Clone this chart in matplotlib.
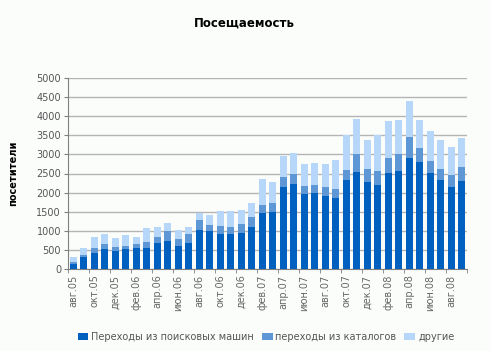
import numpy as np
import matplotlib.pyplot as plt

# months Aug 2005 .. Sep 2008
month_names = ['авг', 'сен', 'окт', 'ноя', 'дек', 'янв', 'фев', 'мар', 'апр', 'май', 'июн', 'июл']
months = []
for i in range(38):
    m = month_names[i % 12]
    year = 5 + (i + 7) // 12
    months.append(f'{m}.{year:02d}')

# cumulative tops
search = [139, 305, 427, 531, 479, 531, 557, 557, 688, 740, 610, 688, 1028,
          1002, 923, 923, 949, 1106, 1472, 1498, 2152, 2230, 1969, 1995, 1916,
          1864, 2335, 2544, 2282, 2204, 2517, 2570, 2909, 2805, 2517, 2335,
          2152, 2309]
search_cat = [174, 375, 557, 662, 584, 610, 662, 714, 845, 1002, 793, 923, 1289,
              1159, 1132, 1106, 1185, 1368, 1681, 1733, 2413, 2491, 2178, 2204,
              2152, 2099, 2596, 3014, 2622, 2570, 2909, 3014, 3458, 3171, 2831,
              2622, 2465, 2674]
total = [322, 557, 845, 923, 819, 897, 845, 1080, 1106, 1211, 1028, 1106, 1472,
         1420, 1524, 1524, 1551, 1733, 2361, 2282, 2962, 3040, 2753, 2779, 2753,
         2857, 3511, 3929, 3380, 3502, 3876, 3902, 4399, 3902, 3615, 3380, 3197,
         3432]

search = np.array(search)
catalogs = np.array(search_cat) - search
other = np.array(total) - np.array(search_cat)

labels = ['Переходы из поисковых машин', 'переходы из каталогов', 'другие']
colors = ['#0060bf', '#5e97d6', '#b6d6fa']
bg = '#fbfdfb'

fig = plt.figure(figsize=(4.91, 3.51), dpi=100, facecolor=bg)
ax = fig.add_axes([68 / 491, 1 - 269 / 351, 399 / 491, 191 / 351], facecolor=bg)

x = np.arange(len(months))
w = 0.63
ax.bar(x, search, w, color=colors[0], label=labels[0], zorder=3)
ax.bar(x, catalogs, w, bottom=search, color=colors[1], label=labels[1], zorder=3)
ax.bar(x, other, w, bottom=search + catalogs, color=colors[2], label=labels[2], zorder=3)

ax.set_xlim(-0.5, len(months) - 0.5)
ax.set_ylim(0, 5000)
ax.set_yticks(np.arange(0, 5001, 500))
ax.yaxis.grid(True, color='#b4b4b4', linewidth=1, zorder=0)
ax.tick_params(axis='y', labelsize=7, labelcolor='#555555', color='#808080', length=3, pad=2)

ax.set_xticks(x[::2])
ax.set_xticklabels(months[::2], rotation=90, fontsize=7, color='#666666')
ax.set_xticks(np.arange(-0.5, len(months), 2), minor=True)
ax.tick_params(axis='x', which='major', length=0, pad=4)
ax.tick_params(axis='x', which='minor', length=3, color='#808080')

for s in ['top', 'right']:
    ax.spines[s].set_visible(False)
ax.spines['left'].set_color('#808080')
ax.spines['bottom'].set_color('#808080')

ax.set_ylabel('посетители', fontsize=7, fontweight='bold')
ax.yaxis.set_label_coords(-50 / 399, 0.5)
fig.text(0.497, 1 - 23 / 351, 'Посещаемость', ha='center', va='center',
         fontsize=8.5, fontweight='bold')

fig.legend(loc='center', bbox_to_anchor=(266 / 491, 1 - 337 / 351), ncol=3, frameon=False,
           fontsize=7, labelcolor='#555555', handlelength=1.1, handleheight=0.8,
           handletextpad=0.3, columnspacing=0.8)

fig.savefig('out.png', dpi=100, facecolor=bg)
